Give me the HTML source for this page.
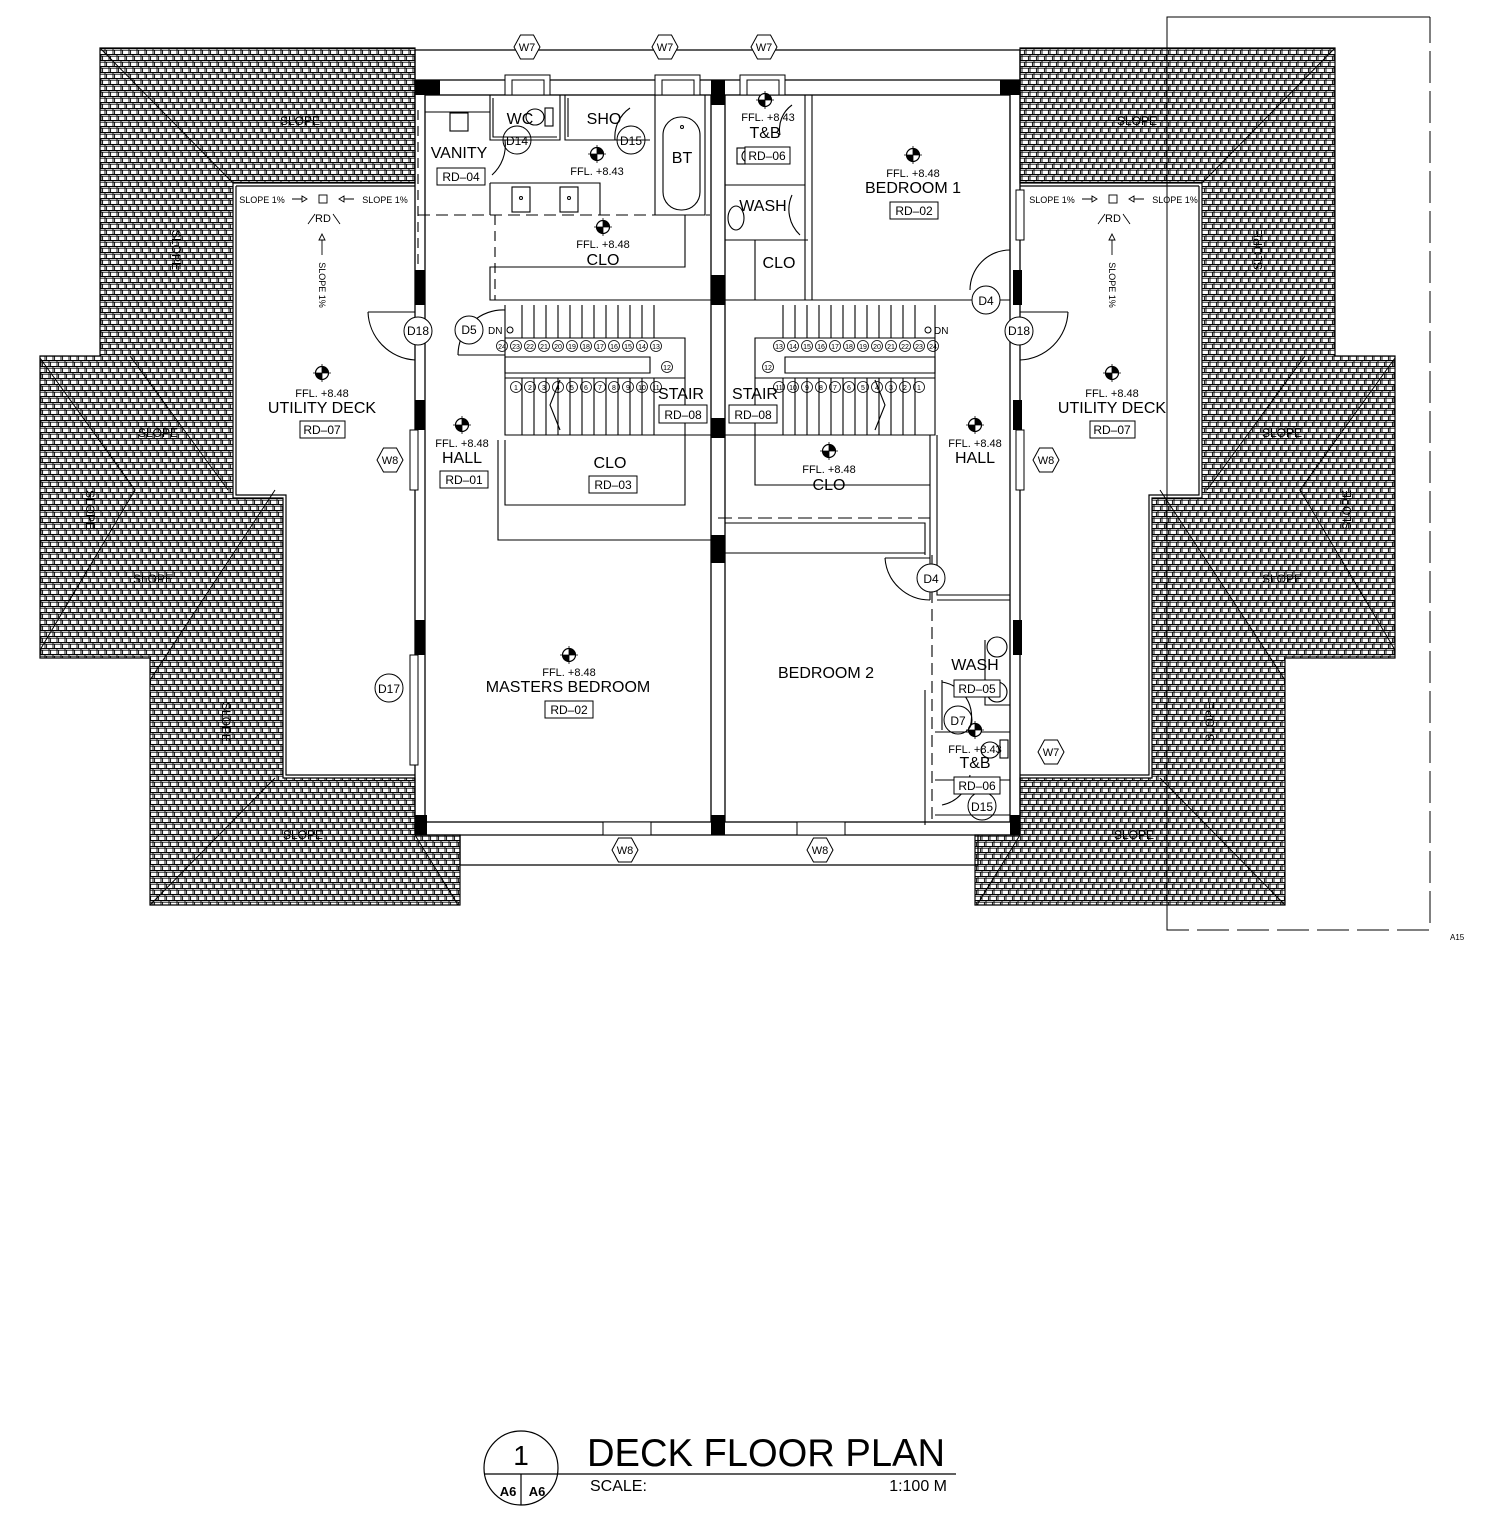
<!DOCTYPE html>
<html><head><meta charset="utf-8"><style>
html,body{margin:0;padding:0;background:#fff}
svg{display:block}
text{font-family:"Liberation Sans",sans-serif;fill:#000}
</style></head><body>
<svg width="1495" height="1519" viewBox="0 0 1495 1519" xmlns="http://www.w3.org/2000/svg">
<defs>
<pattern id="t" width="8" height="12" patternUnits="userSpaceOnUse">
<rect width="8" height="12" fill="#fff"/>
<path d="M0 0.5H8M0 2.2H8M0 6.5H8M0 8.2H8M1 0V6.5M2.6 2V6.5M5 6.5V12M6.6 8V12" stroke="#000" stroke-width="0.9"/>
</pattern>
<symbol id="mk" viewBox="-9 -9 18 18" overflow="visible">
<circle r="6.5" fill="#fff" stroke="#000" stroke-width="1.2"/>
<path d="M0 0V-6.5A6.5 6.5 0 0 1 6.5 0Z M0 0V6.5A6.5 6.5 0 0 1 -6.5 0Z" fill="#000"/>
<path d="M-9 0H9M0 -9V9" stroke="#000" stroke-width="0.8"/>
</symbol>
<symbol id="hx" viewBox="-14 -14 28 28" overflow="visible">
<polygon points="-6.5,-12 6.5,-12 13,0 6.5,12 -6.5,12 -13,0" fill="#fff" stroke="#000" stroke-width="1"/>
</symbol>
</defs>

<!-- ROOFS -->
<g id="roofL" stroke="#000" stroke-width="1.2">
<path d="M100 48H415V183H233V498H283V778H415V835H460V905H150V658H40V356H100Z" fill="url(#t)"/>
<path d="M236 186H415M236 186V495H286V775H415" fill="none"/>
<path d="M100 48L233 183M40 358L135 490L40 650M130 356L228 490M275 490L150 680M275 778L150 905M415 835L458 905" fill="none" stroke-width="1"/>
</g>
<use href="#roofL" transform="matrix(-1 0 0 1 1435 0)"/>

<!-- dashed boundary right -->
<path d="M1167 930V17H1430" fill="none" stroke="#000" stroke-width="1"/>
<path d="M1167 120V930H1430V17" fill="none" stroke="#000" stroke-width="1" stroke-dasharray="32 8"/>
<text x="1450" y="940" font-size="8">A15</text>

<!-- HOUSE outline -->
<g fill="none" stroke="#000" stroke-width="1.3">
<path d="M415 50H1020M415 50V835M1020 50V835"/>
<path d="M460 865H978M460 835V865M978 835V865"/>
<rect x="425" y="95" width="585" height="727"/>
<path d="M415 80H1020M415 835H1020"/>
<path d="M711 95V822M725 95V822"/>
</g>
<!-- columns -->
<g fill="#000">
<rect x="415" y="80" width="25" height="15"/><rect x="1000" y="80" width="20" height="15"/>
<rect x="415" y="815" width="12" height="20"/><rect x="1010" y="815" width="10" height="20"/>
<rect x="711" y="80" width="14" height="25"/><rect x="711" y="815" width="14" height="20"/>
<rect x="711" y="275" width="14" height="30"/><rect x="711" y="418" width="14" height="20"/>
<rect x="711" y="535" width="14" height="28"/>
<rect x="415" y="270" width="10" height="35"/><rect x="1013" y="270" width="9" height="35"/>
<rect x="415" y="400" width="10" height="30"/><rect x="1013" y="400" width="9" height="30"/>
<rect x="415" y="620" width="10" height="35"/><rect x="1013" y="620" width="9" height="35"/>
</g>
<!-- windows -->
<g fill="#fff" stroke="#000" stroke-width="1">
<rect x="505" y="75" width="45" height="20"/><rect x="512" y="80" width="32" height="15"/>
<rect x="655" y="75" width="45" height="20"/><rect x="662" y="80" width="32" height="15"/>
<rect x="740" y="75" width="45" height="20"/><rect x="747" y="80" width="32" height="15"/>
<rect x="603" y="822" width="48" height="13"/><rect x="797" y="822" width="48" height="13"/>
<rect x="410" y="430" width="8" height="60"/><rect x="410" y="655" width="8" height="110"/>
<rect x="1016" y="430" width="8" height="60"/><rect x="1016" y="190" width="8" height="50"/>
</g>

<!-- interior walls -->
<g fill="none" stroke="#000" stroke-width="1.1">
<path d="M425 112H490M490 95V140H560V95M493 98V137H557"/>
<path d="M565 95V140H650M568 98V137"/>
<path d="M418 215H710" stroke-dasharray="12 6"/>
<path d="M490 183H600V215M490 183V215"/>
<path d="M655 95V215H705V95"/>
<rect x="663" y="117" width="37" height="93" rx="18"/>
<path d="M495 215V300" stroke-dasharray="10 6"/>
<path d="M685 215V267H490V300H711"/>
<path d="M725 185H805V240H725M805 95V300M812 95V300" />
<path d="M725 240H808M755 240V300"/>
<path d="M725 300H1010"/>
<path d="M1010 95V300"/>
<path d="M505 305V435H711M725 435H935V305"/>
<path d="M505 338H685V435M935 338H755V435"/>
<path d="M505 357H650V373H505ZM935 357H785V373H935Z"/>
<path d="M505 378H685M935 378H755"/>
<path d="M560 380L550 405L560 430M875 380L885 405L875 430"/>
<path d="M522 305V338M534 305V338M546 305V338M558 305V338M570 305V338M582 305V338M594 305V338M606 305V338M618 305V338M630 305V338M642 305V338M654 305V338M522 378V435M534 378V435M546 378V435M558 378V435M570 378V435M582 378V435M594 378V435M606 378V435M618 378V435M630 378V435M642 378V435M654 378V435"/>
<path d="M783 305V338M795 305V338M807 305V338M819 305V338M831 305V338M843 305V338M855 305V338M867 305V338M879 305V338M891 305V338M903 305V338M915 305V338M783 378V435M795 378V435M807 378V435M819 378V435M831 378V435M843 378V435M855 378V435M867 378V435M879 378V435M891 378V435M903 378V435M915 378V435"/>
<path d="M505 440V505H685V435M498 440V540H711"/>
<path d="M755 435V485H930"/>
<path d="M718 518H930" stroke-dasharray="14 6"/>
<path d="M725 523H925V555M725 553H925"/>
<path d="M930 435V600M937 435V595H1010M937 600H1010"/>
<path d="M932 555V825" stroke-dasharray="12 6"/>
<path d="M925 690V825M985 640V705H1010M985 640V700"/>
<path d="M935 732H1010M935 780H1010M935 815H1010M942 680V730"/>
<path d="M418 110V300" stroke-dasharray="10 6"/>
<path d="M368 312A50 50 0 0 0 415 360M368 312H415" />
<path d="M1068 312A50 50 0 0 1 1020 360M1068 312H1020"/>
<path d="M458 355A45 45 0 0 1 505 310M458 355H505"/>
<path d="M1010 250A40 40 0 0 0 970 290"/>
<path d="M885 558A45 45 0 0 0 930 600M885 558H930"/>
<path d="M505 140A40 40 0 0 1 492 175"/>
<path d="M630 108A35 35 0 0 0 615 140"/>
<path d="M792 105A30 30 0 0 0 780 135M792 195A35 35 0 0 0 800 235"/>
<path d="M942 682A35 35 0 0 1 970 727M942 805A35 35 0 0 0 970 775"/>
<rect x="450" y="113" width="18" height="18"/>
<rect x="512" y="187" width="18" height="25"/><rect x="560" y="187" width="18" height="25"/>
<ellipse cx="535" cy="117" rx="9" ry="8"/><rect x="545" y="108" width="8" height="18"/>
<ellipse cx="751" cy="156" rx="9" ry="7"/><rect x="737" y="148" width="8" height="16"/>
<ellipse cx="736" cy="218" rx="8" ry="12"/>
<circle cx="997" cy="647" r="10"/><circle cx="997" cy="692" r="10"/>
<ellipse cx="990" cy="750" rx="9" ry="8"/><rect x="1000" y="740" width="8" height="18"/>
</g>
<circle cx="682" cy="127" r="1.5" fill="none" stroke="#000"/>
<circle cx="521" cy="198" r="1.5" fill="none" stroke="#000"/><circle cx="569" cy="198" r="1.5" fill="none" stroke="#000"/>

<!-- stair numbers -->
<g fill="none" stroke="#000" stroke-width="0.8">
<circle cx="502" cy="346" r="5.5"/><circle cx="516" cy="346" r="5.5"/><circle cx="530" cy="346" r="5.5"/><circle cx="544" cy="346" r="5.5"/><circle cx="558" cy="346" r="5.5"/><circle cx="572" cy="346" r="5.5"/><circle cx="586" cy="346" r="5.5"/><circle cx="600" cy="346" r="5.5"/><circle cx="614" cy="346" r="5.5"/><circle cx="628" cy="346" r="5.5"/><circle cx="642" cy="346" r="5.5"/><circle cx="656" cy="346" r="5.5"/>
<circle cx="516" cy="387" r="5.5"/><circle cx="530" cy="387" r="5.5"/><circle cx="544" cy="387" r="5.5"/><circle cx="558" cy="387" r="5.5"/><circle cx="572" cy="387" r="5.5"/><circle cx="586" cy="387" r="5.5"/><circle cx="600" cy="387" r="5.5"/><circle cx="614" cy="387" r="5.5"/><circle cx="628" cy="387" r="5.5"/><circle cx="642" cy="387" r="5.5"/><circle cx="656" cy="387" r="5.5"/><circle cx="667" cy="367" r="5.5"/>
<circle cx="933" cy="346" r="5.5"/><circle cx="919" cy="346" r="5.5"/><circle cx="905" cy="346" r="5.5"/><circle cx="891" cy="346" r="5.5"/><circle cx="877" cy="346" r="5.5"/><circle cx="863" cy="346" r="5.5"/><circle cx="849" cy="346" r="5.5"/><circle cx="835" cy="346" r="5.5"/><circle cx="821" cy="346" r="5.5"/><circle cx="807" cy="346" r="5.5"/><circle cx="793" cy="346" r="5.5"/><circle cx="779" cy="346" r="5.5"/>
<circle cx="919" cy="387" r="5.5"/><circle cx="905" cy="387" r="5.5"/><circle cx="891" cy="387" r="5.5"/><circle cx="877" cy="387" r="5.5"/><circle cx="863" cy="387" r="5.5"/><circle cx="849" cy="387" r="5.5"/><circle cx="835" cy="387" r="5.5"/><circle cx="821" cy="387" r="5.5"/><circle cx="807" cy="387" r="5.5"/><circle cx="793" cy="387" r="5.5"/><circle cx="779" cy="387" r="5.5"/><circle cx="768" cy="367" r="5.5"/>
</g>
<g font-size="7" text-anchor="middle">
<text x="502" y="349">24</text><text x="516" y="349">23</text><text x="530" y="349">22</text><text x="544" y="349">21</text><text x="558" y="349">20</text><text x="572" y="349">19</text><text x="586" y="349">18</text><text x="600" y="349">17</text><text x="614" y="349">16</text><text x="628" y="349">15</text><text x="642" y="349">14</text><text x="656" y="349">13</text>
<text x="516" y="390">1</text><text x="530" y="390">2</text><text x="544" y="390">3</text><text x="558" y="390">4</text><text x="572" y="390">5</text><text x="586" y="390">6</text><text x="600" y="390">7</text><text x="614" y="390">8</text><text x="628" y="390">9</text><text x="642" y="390">10</text><text x="656" y="390">11</text><text x="667" y="370">12</text>
<text x="933" y="349">24</text><text x="919" y="349">23</text><text x="905" y="349">22</text><text x="891" y="349">21</text><text x="877" y="349">20</text><text x="863" y="349">19</text><text x="849" y="349">18</text><text x="835" y="349">17</text><text x="821" y="349">16</text><text x="807" y="349">15</text><text x="793" y="349">14</text><text x="779" y="349">13</text>
<text x="919" y="390">1</text><text x="905" y="390">2</text><text x="891" y="390">3</text><text x="877" y="390">4</text><text x="863" y="390">5</text><text x="849" y="390">6</text><text x="835" y="390">7</text><text x="821" y="390">8</text><text x="807" y="390">9</text><text x="793" y="390">10</text><text x="779" y="390">11</text><text x="768" y="370">12</text>
</g>

<use href="#mk" x="588" y="145" width="18" height="18"/>
<use href="#mk" x="594" y="218" width="18" height="18"/>
<use href="#mk" x="756" y="91" width="18" height="18"/>
<use href="#mk" x="904" y="146" width="18" height="18"/>
<use href="#mk" x="313" y="364" width="18" height="18"/>
<use href="#mk" x="1103" y="364" width="18" height="18"/>
<use href="#mk" x="453" y="416" width="18" height="18"/>
<use href="#mk" x="966" y="416" width="18" height="18"/>
<use href="#mk" x="820" y="442" width="18" height="18"/>
<use href="#mk" x="560" y="646" width="18" height="18"/>
<use href="#mk" x="966" y="721" width="18" height="18"/>

<use href="#hx" x="513" y="33" width="28" height="28"/>
<use href="#hx" x="651" y="33" width="28" height="28"/>
<use href="#hx" x="750" y="33" width="28" height="28"/>
<use href="#hx" x="376" y="446" width="28" height="28"/>
<use href="#hx" x="1032" y="446" width="28" height="28"/>
<use href="#hx" x="1037" y="738" width="28" height="28"/>
<use href="#hx" x="611" y="836" width="28" height="28"/>
<use href="#hx" x="806" y="836" width="28" height="28"/>
<g font-size="11" text-anchor="middle">
<text x="527" y="51">W7</text><text x="665" y="51">W7</text><text x="764" y="51">W7</text>
<text x="390" y="464">W8</text><text x="1046" y="464">W8</text><text x="1051" y="756">W7</text>
<text x="625" y="854">W8</text><text x="820" y="854">W8</text>
</g>

<g fill="#fff" stroke="#000" stroke-width="1">
<circle cx="418" cy="331" r="14"/><circle cx="1019" cy="331" r="14"/><circle cx="469" cy="330" r="14"/>
<circle cx="517" cy="140" r="14" fill="none"/><circle cx="631" cy="140" r="14" fill="none"/>
<circle cx="986" cy="300" r="14"/><circle cx="931" cy="578" r="14"/>
<circle cx="389" cy="688" r="14"/><circle cx="958" cy="720" r="14" fill="none"/><circle cx="982" cy="806" r="14" fill="none"/>
<circle cx="510" cy="330" r="3"/><circle cx="928" cy="330" r="3"/>
</g>
<g font-size="12" text-anchor="middle">
<text x="418" y="335">D18</text><text x="1019" y="335">D18</text><text x="469" y="334">D5</text>
<text x="517" y="145">D14</text><text x="631" y="145">D15</text><text x="986" y="305">D4</text><text x="931" y="583">D4</text>
<text x="389" y="693">D17</text><text x="958" y="725">D7</text><text x="982" y="811">D15</text>
</g>
<g font-size="10"><text x="488" y="334">DN</text><text x="934" y="334">DN</text></g>

<g fill="#fff" stroke="#000" stroke-width="1">
<rect x="437" y="168" width="48" height="17"/>
<rect x="745" y="147" width="45" height="17"/>
<rect x="890" y="202" width="48" height="17"/>
<rect x="659" y="405" width="48" height="18"/><rect x="729" y="405" width="48" height="18"/>
<rect x="300" y="421" width="45" height="17"/><rect x="1090" y="421" width="45" height="17"/>
<rect x="440" y="471" width="48" height="17"/>
<rect x="589" y="476" width="48" height="17"/>
<rect x="545" y="701" width="48" height="17"/>
<rect x="954" y="680" width="46" height="17"/>
<rect x="954" y="777" width="46" height="17"/>
</g>
<g font-size="12" text-anchor="middle">
<text x="461" y="181">RD–04</text><text x="767" y="160">RD–06</text><text x="914" y="215">RD–02</text>
<text x="683" y="419">RD–08</text><text x="753" y="419">RD–08</text>
<text x="322" y="434">RD–07</text><text x="1112" y="434">RD–07</text>
<text x="464" y="484">RD–01</text><text x="613" y="489">RD–03</text><text x="569" y="714">RD–02</text>
<text x="977" y="693">RD–05</text><text x="977" y="790">RD–06</text>
</g>

<g font-size="16" text-anchor="middle">
<text x="459" y="158">VANITY</text><text x="520" y="124">WC</text><text x="604" y="124">SHO</text><text x="682" y="163">BT</text>
<text x="765" y="138">T&amp;B</text><text x="763" y="211">WASH</text><text x="779" y="268">CLO</text>
<text x="913" y="193">BEDROOM 1</text><text x="603" y="265">CLO</text>
<text x="681" y="399">STAIR</text><text x="755" y="399">STAIR</text>
<text x="322" y="413">UTILITY DECK</text><text x="1112" y="413">UTILITY DECK</text>
<text x="462" y="463">HALL</text><text x="975" y="463">HALL</text>
<text x="610" y="468">CLO</text><text x="829" y="490">CLO</text>
<text x="568" y="692">MASTERS BEDROOM</text><text x="826" y="678">BEDROOM 2</text>
<text x="975" y="670">WASH</text><text x="975" y="768">T&amp;B</text>
</g>
<g font-size="11" text-anchor="middle">
<text x="597" y="175">FFL. +8.43</text><text x="603" y="248">FFL. +8.48</text><text x="768" y="121">FFL. +8.43</text>
<text x="913" y="177">FFL. +8.48</text><text x="322" y="397">FFL. +8.48</text><text x="1112" y="397">FFL. +8.48</text>
<text x="462" y="447">FFL. +8.48</text><text x="975" y="447">FFL. +8.48</text><text x="829" y="473">FFL. +8.48</text>
<text x="569" y="676">FFL. +8.48</text><text x="975" y="753">FFL. +8.43</text>
</g>

<g font-size="9" text-anchor="middle">
<text x="262" y="203">SLOPE 1%</text><text x="385" y="203">SLOPE 1%</text><text x="323" y="222" font-size="11">RD</text>
<text transform="translate(319,285) rotate(90)">SLOPE 1%</text>
<text x="1052" y="203">SLOPE 1%</text><text x="1175" y="203">SLOPE 1%</text><text x="1113" y="222" font-size="11">RD</text>
<text transform="translate(1109,285) rotate(90)">SLOPE 1%</text>
</g>
<g fill="none" stroke="#000" stroke-width="0.9">
<rect x="319" y="195" width="8" height="8"/><rect x="1109" y="195" width="8" height="8"/>
<path d="M292 199H302M302 196L307 199L302 202ZM354 199H344M344 196L339 199L344 202Z"/>
<path d="M1082 199H1092M1092 196L1097 199L1092 202ZM1144 199H1134M1134 196L1129 199L1134 202Z"/>
<path d="M322 255V240M319 240L322 234L325 240ZM1112 255V240M1109 240L1112 234L1115 240Z"/>
<path d="M308 224L315 214M340 224L333 214M1098 224L1105 214M1130 224L1123 214"/>
</g>

<g font-size="12" text-anchor="middle">
<text x="300" y="125">SLOPE</text><text x="1137" y="125">SLOPE</text>
<text transform="translate(172,250) rotate(90)">SLOPE</text><text transform="translate(1262,250) rotate(-90)">SLOPE</text>
<text x="158" y="437">SLOPE</text><text x="1282" y="437">SLOPE</text>
<text transform="translate(86,510) rotate(90)">SLOPE</text><text transform="translate(1351,510) rotate(-90)">SLOPE</text>
<text x="153" y="583">SLOPE</text><text x="1282" y="583">SLOPE</text>
<text transform="translate(222,722) rotate(90)">SLOPE</text><text transform="translate(1214,722) rotate(-90)">SLOPE</text>
<text x="303" y="839">SLOPE</text><text x="1134" y="839">SLOPE</text>
</g>

<g fill="none" stroke="#000" stroke-width="1.2">
<circle cx="521" cy="1468" r="37"/>
<path d="M484 1474H956M521 1474V1505"/>
</g>
<text x="521" y="1465" font-size="28" text-anchor="middle">1</text>
<text x="508" y="1496" font-size="13" font-weight="bold" text-anchor="middle">A6</text>
<text x="537" y="1496" font-size="13" font-weight="bold" text-anchor="middle">A6</text>
<text x="587" y="1466" font-size="39" textLength="358" lengthAdjust="spacingAndGlyphs">DECK FLOOR PLAN</text>
<text x="590" y="1491" font-size="16">SCALE:</text>
<text x="947" y="1491" font-size="16" text-anchor="end">1:100 M</text>
</svg>
</body></html>
